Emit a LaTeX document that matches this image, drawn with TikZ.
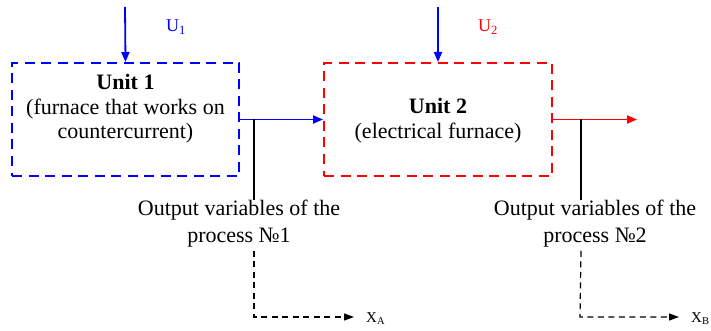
\documentclass[tikz,border=0pt]{standalone}
\usepackage{fontspec}
\setmainfont{Liberation Serif}
\usetikzlibrary{arrows.meta}
\definecolor{pblue}{RGB}{0,0,255}
\definecolor{pred}{RGB}{255,0,0}
\begin{document}
\begin{tikzpicture}[x=1pt,y=-1pt,
  unitbox/.style={draw, line width=2pt, dash pattern=on 10pt off 6.5pt, minimum height=113pt, inner sep=0pt},
  bodytext/.style={align=center, font=\fontsize{22}{24.5}\selectfont, inner sep=0pt},
  outtext/.style={align=center, font=\fontsize{22}{27}\selectfont, inner sep=0pt},
  flow/.style={line width=1.8pt, -{Triangle[length=10pt,width=8pt]}},
  dashflow/.style={line width=1.2pt, dash pattern=on 6pt off 4.5pt, -{Triangle[length=10pt,width=7pt]}},
  smalllab/.style={font=\fontsize{18}{20}\selectfont, inner sep=0pt},
  xlab/.style={font=\fontsize{15}{16}\selectfont, inner sep=0pt, anchor=west}
]
\useasboundingbox (0,0) rectangle (711,331);
% boxes
\node[unitbox, pblue, minimum width=227pt] (u1) at (125.5,119.5) {};
\node[unitbox, pred, minimum width=228pt] (u2) at (438,119.5) {};
\node[bodytext] (t1) at (125.5,109) {\textbf{Unit 1}\\(furnace that works on\\countercurrent)};
\node[bodytext] (t2) at (438,120.5) {\textbf{Unit 2}\\(electrical furnace)};
% inputs
\coordinate (in1) at (125,7);
\coordinate (in2) at (438,7);
\draw[flow, pblue] (in1) -- (u1.north);
\draw[flow, pblue] (in2) -- (u2.north);
\node[smalllab, text=pblue] (lu1) at (176,27) {U\textsubscript{1}};
\node[smalllab, text=pred] (lu2) at (488,27) {U\textsubscript{2}};
% main flows
\draw[flow, pblue] (u1.east) -- (u2.west);
\coordinate (e2) at (637,119.5);
\draw[flow, pred] (u2.east) -- (e2);
% outputs
\coordinate (b1) at (254,119.5);
\coordinate (b2) at (581,119.5);
\node[outtext] (o1) at (239,224) {Output variables of the\\process №1};
\node[outtext] (o2) at (595,224) {Output variables of the\\process №2};
\draw[line width=1.2pt] (b1) -- (b1 |- o1.north);
\draw[line width=1.2pt] (b2) -- (b2 |- o2.north);
\node[xlab] (xa) at (366,319) {X\textsubscript{A}};
\node[xlab] (xb) at (691,319) {X\textsubscript{B}};
\coordinate (c1) at (254,317);
\coordinate (c2) at (580,317);
\draw[dashflow] ([yshift=-3pt]b1 |- o1.south) -- (c1) -- ([xshift=-12pt]c1 -| xa.west);
\draw[dashflow] ([yshift=-3pt]b2 |- o2.south) -- (c2) -- ([xshift=-12pt]c2 -| xb.west);
\end{tikzpicture}
\end{document}
